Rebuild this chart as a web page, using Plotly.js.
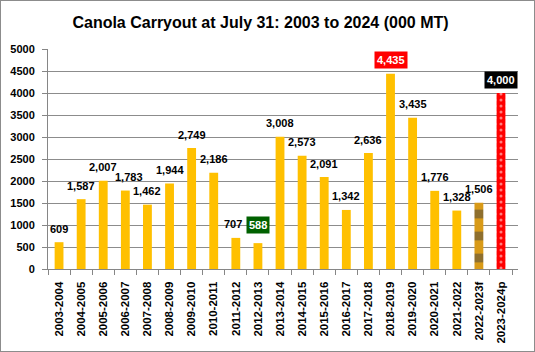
<!DOCTYPE html>
<html>
<head>
<meta charset="utf-8">
<script src="https://cdn.plot.ly/plotly-3.0.1.min.js"></script>
<style>
html, body { margin: 0; padding: 0; background: #ffffff; }
#chart { width: 533px; height: 350px; border: 1px solid #8c8c8c; }
</style>
</head>
<body>
<div id="chart"></div>
<script>
// ---- data ----
const seasons = ["2003-2004","2004-2005","2005-2006","2006-2007","2007-2008","2008-2009","2009-2010",
  "2010-2011","2011-2012","2012-2013","2013-2014","2014-2015","2015-2016","2016-2017","2017-2018",
  "2018-2019","2019-2020","2020-2021","2021-2022","2022-2023f","2023-2024p"];
const carryout = [609,1587,2007,1783,1462,1944,2749,2186,707,588,3008,2573,2091,1342,2636,4435,3435,1776,1328,1506,4000];
const yTicks = [0,500,1000,1500,2000,2500,3000,3500,4000,4500,5000];

// ---- styling ----
const gold = "#FFC000";
const last = seasons.length - 1;
const barColors = carryout.map((v, i) => i === last ? "#FF0000" : (i === last - 1 ? "#D89A18" : gold));
const patShape = carryout.map((v, i) => i === last ? "." : (i === last - 1 ? "-" : ""));
const patFg = carryout.map((v, i) => i === last ? "#ffffff" : (i === last - 1 ? "#8A5C08" : gold));
const patSize = carryout.map((v, i) => i === last ? 6 : (i === last - 1 ? 22 : 8));
const patSolid = carryout.map((v, i) => i === last ? 0.2 : (i === last - 1 ? 0.4 : 0.3));

// highlighted labels: index -> box style
const boxStyle = {
  9:  {bg: "#006100", yshift: 18},
  15: {bg: "#FF0000", yshift: 14},
  20: {bg: "#000000", yshift: 13}
};
const labelXShift = {3: 4, 8: -3};

const fmt = v => v.toLocaleString("en-US");
const FONT = "Liberation Sans, Arial, sans-serif";

const annotations = carryout.map((v, i) => {
  const b = boxStyle[i];
  const a = {
    x: seasons[i], y: v, xref: "x", yref: "y",
    text: fmt(v), showarrow: false,
    xanchor: "center", yanchor: "middle",
    yshift: b ? b.yshift : 13.5,
    xshift: labelXShift[i] || 0,
    font: {family: FONT, size: 11, color: b ? "#ffffff" : "#000000", weight: "bold"}
  };
  if (b) { a.bgcolor = b.bg; a.borderpad = 2; }
  return a;
});

const trace = {
  type: "bar",
  x: seasons,
  y: carryout,
  marker: {
    color: barColors,
    line: {width: 0},
    pattern: {shape: patShape, fgcolor: patFg, bgcolor: barColors, size: patSize, solidity: patSolid, fillmode: "overlay"}
  },
  hoverinfo: "x+y"
};

const layout = {
  width: 533, height: 350,
  margin: {l: 47.3, r: 15.5, t: 48.3, b: 82.3, pad: 0},
  paper_bgcolor: "#ffffff",
  plot_bgcolor: "#ffffff",
  bargap: 0.6,
  showlegend: false,
  title: {
    text: "Canola Carryout at July 31: 2003 to 2024 (000 MT)",
    font: {family: FONT, size: 16, color: "#000000", weight: "bold"},
    x: 259.5 / 533, xanchor: "center", xref: "container",
    y: 1 - 21.7 / 350, yanchor: "middle", yref: "container"
  },
  xaxis: {
    type: "category",
    tickangle: -90,
    ticks: "outside", ticklen: 5, tickcolor: "#868686", tickson: "boundaries",
    ticklabelstandoff: 7,
    showline: true, linecolor: "#868686", linewidth: 1,
    showgrid: false,
    tickfont: {family: FONT, size: 11.5, color: "#000000", weight: "bold"},
    automargin: false
  },
  yaxis: {
    range: [0, 5000],
    tickvals: yTicks,
    ticktext: yTicks.map(String),
    ticks: "outside", ticklen: 5, tickcolor: "#868686",
    ticklabelstandoff: 5,
    showline: true, linecolor: "#868686", linewidth: 1,
    showgrid: true, gridcolor: "#8c8c8c", gridwidth: 1,
    zeroline: false,
    tickfont: {family: FONT, size: 11, color: "#000000", weight: "bold"},
    automargin: false
  },
  annotations: annotations
};

Plotly.newPlot("chart", [trace], layout, {displayModeBar: false, staticPlot: true});
</script>
</body>
</html>
